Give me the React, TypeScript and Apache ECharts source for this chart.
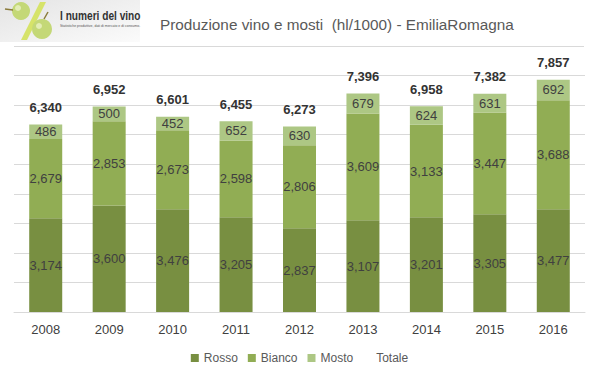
import React, { useEffect, useRef } from "react";
import * as echarts from "echarts";

const years = ["2008", "2009", "2010", "2011", "2012", "2013", "2014", "2015", "2016"];
const rosso = [3174, 3600, 3476, 3205, 2837, 3107, 3201, 3305, 3477];
const bianco = [2679, 2853, 2673, 2598, 2806, 3609, 3133, 3447, 3688];
const mosto = [486, 500, 452, 652, 630, 679, 624, 631, 692];
const totale = [6340, 6952, 6601, 6455, 6273, 7396, 6958, 7382, 7857];

const fmt = (v: number) => v.toLocaleString("en-US");
const FONT = "'Liberation Sans', Arial, sans-serif";

export default function App() {
  const ref = useRef<HTMLDivElement>(null);
  useEffect(() => {
    if (!ref.current) return;
    const chart = echarts.init(ref.current, null, { renderer: "svg" });
    const inner = {
      show: true,
      position: "inside" as const,
      color: "#404040",
      fontSize: 13,
      fontFamily: FONT,
      formatter: (p: any) => fmt(p.value),
    };
    chart.setOption({
      animation: false,
      textStyle: { fontFamily: FONT },
      title: {
        text: "Produzione vino e mosti  (hl/1000) - EmiliaRomagna",
        left: 155,
        top: 12,
        textStyle: { fontSize: 15.3, fontWeight: "normal", color: "#595959", fontFamily: FONT },
      },
      graphic: [
        {
          type: "rect",
          shape: { x: 0, y: 0, width: 140, height: 42 },
          style: {
            fill: new echarts.graphic.LinearGradient(0, 0, 1, 1, [
              { offset: 0, color: "#e4e4e4" },
              { offset: 1, color: "#fbfbfb" },
            ]),
          },
          z: 1,
        },
        {
          type: "polygon",
          shape: { points: [[40, 2], [46, 2], [27, 40], [21, 40]] },
          style: { fill: "#d6e36a" },
          z: 2,
        },
        { type: "circle", shape: { cx: 21, cy: 11, r: 9 }, style: { fill: "#c4d877" }, z: 3 },
        { type: "circle", shape: { cx: 18, cy: 8, r: 3 }, style: { fill: "#e3edb5" }, z: 4 },
        { type: "line", shape: { x1: 5, y1: 9, x2: 13, y2: 10 }, style: { stroke: "#8a7a3a", lineWidth: 1.5 }, z: 3 },
        { type: "circle", shape: { cx: 42, cy: 29, r: 10 }, style: { fill: "#c4d877" }, z: 3 },
        { type: "circle", shape: { cx: 39, cy: 26, r: 3 }, style: { fill: "#e3edb5" }, z: 4 },
        { type: "line", shape: { x1: 44, y1: 19, x2: 48, y2: 12 }, style: { stroke: "#8a7a3a", lineWidth: 1.5 }, z: 3 },
        {
          type: "text",
          x: 60,
          y: 8,
          scaleX: 0.78,
          style: { text: "I numeri del vino", fontSize: 13, fontWeight: "bold", fill: "#333333", fontFamily: FONT },
          z: 5,
        },
        {
          type: "text",
          x: 60,
          y: 24,
          style: { text: "Statistiche produttive, dati di mercato e di consumo.", fontSize: 3.5, fill: "#555555", fontFamily: FONT },
          z: 5,
        },
        {
          type: "line",
          shape: { x1: 14, y1: 46.5, x2: 584, y2: 46.5 },
          style: { stroke: "#d9d9d9", lineWidth: 1 },
        },
      ],
      legend: {
        left: "center",
        top: 347,
        itemWidth: 8,
        itemHeight: 8,
        itemGap: 10,
        icon: "rect",
        textStyle: { color: "#595959", fontSize: 12, fontFamily: FONT },
        data: [
          { name: "Rosso" },
          { name: "Bianco" },
          { name: "Mosto" },
          { name: "Totale", itemStyle: { opacity: 0 } },
        ],
      },
      grid: { left: 14, right: 14, top: 75.5, bottom: 66, containLabel: false },
      xAxis: {
        type: "category",
        data: years,
        axisLine: { lineStyle: { color: "#d9d9d9" } },
        axisTick: { show: false },
        axisLabel: { color: "#404040", fontSize: 13, margin: 11, fontFamily: FONT },
      },
      yAxis: {
        type: "value",
        min: 0,
        max: 8000,
        interval: 1000,
        axisLabel: { show: false },
        axisLine: { show: false },
        axisTick: { show: false },
        splitLine: { lineStyle: { color: "#d9d9d9" } },
      },
      series: [
        { name: "Rosso", type: "bar", stack: "t", barWidth: 33, data: rosso, itemStyle: { color: "#788f41" }, label: inner },
        { name: "Bianco", type: "bar", stack: "t", barWidth: 33, data: bianco, itemStyle: { color: "#91ad54" }, label: inner },
        { name: "Mosto", type: "bar", stack: "t", barWidth: 33, data: mosto, itemStyle: { color: "#adc784" }, label: inner },
        {
          name: "Totale",
          type: "line",
          data: totale,
          symbol: "circle",
          symbolSize: 1,
          showSymbol: true,
          lineStyle: { width: 0, opacity: 0 },
          itemStyle: { color: "rgba(0,0,0,0)" },
          label: {
            show: true,
            position: "top",
            distance: 10,
            color: "#333333",
            fontSize: 13,
            fontWeight: "bold",
            fontFamily: FONT,
            formatter: (p: any) => fmt(p.value),
          },
        },
      ],
    });
    return () => chart.dispose();
  }, []);
  return <div ref={ref} style={{ width: 599, height: 378, position: "absolute", left: 0, top: 0 }} />;
}
